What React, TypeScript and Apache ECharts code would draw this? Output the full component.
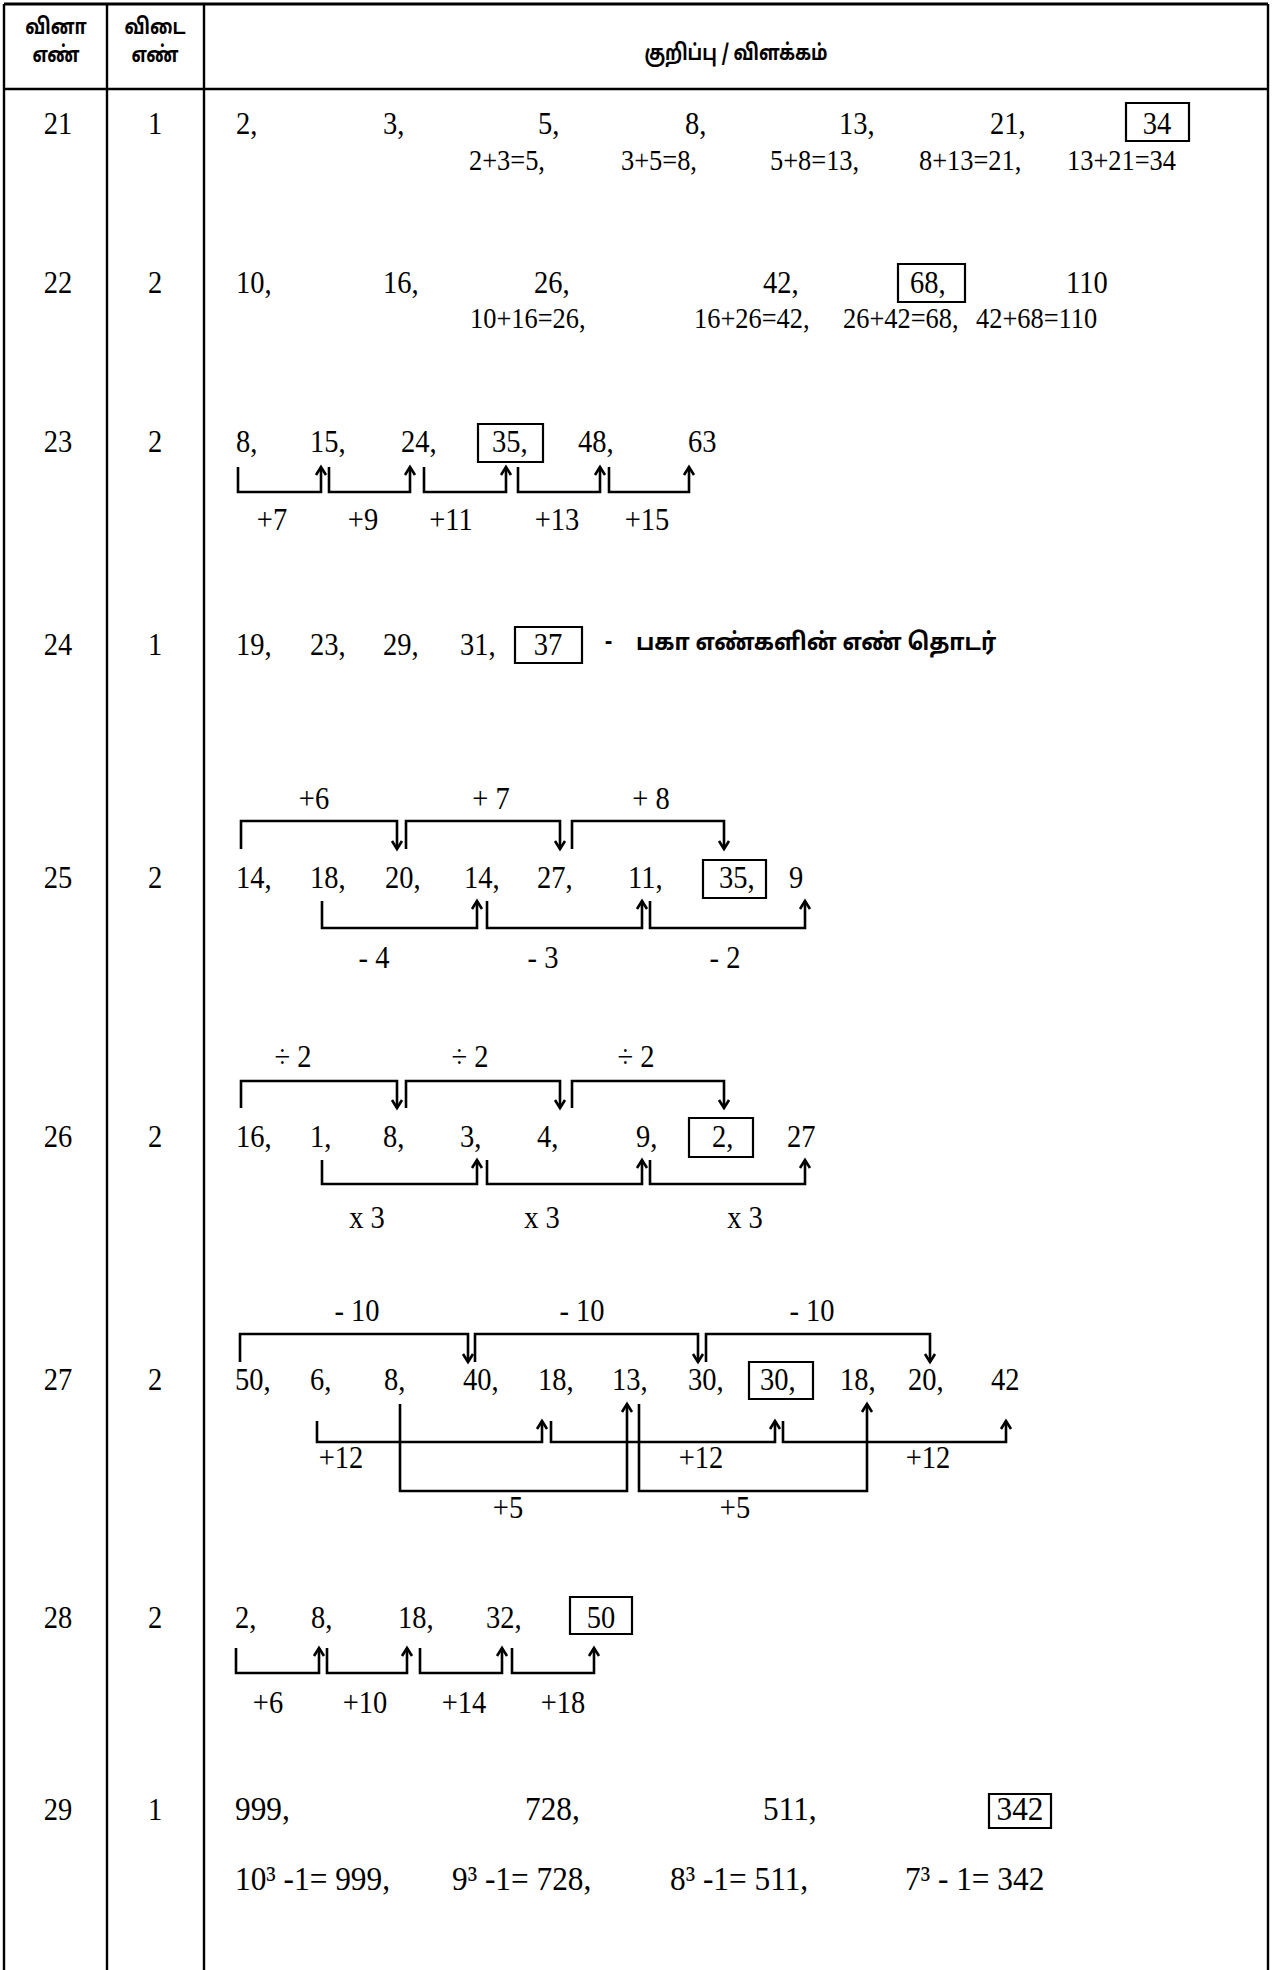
import React, { useEffect, useRef } from "react";
import * as echarts from "echarts";

// ---------- data ----------
const HEADER_Q = ["வினா", "எண்"];
const HEADER_A = ["விடை", "எண்"];
const HEADER_NOTE = "குறிப்பு / விளக்கம்";
const QUESTION_NOS = ["21", "22", "23", "24", "25", "26", "27", "28", "29"];
const ANSWER_NOS = ["1", "2", "2", "1", "2", "2", "2", "2", "1"];

const Q21_SERIES = ["2,", "3,", "5,", "8,", "13,", "21,"];
const Q21_ANSWER = "34";
const Q21_STEPS = ["2+3=5,", "3+5=8,", "5+8=13,", "8+13=21,", "13+21=34"];

const Q22_SERIES = ["10,", "16,", "26,", "42,"];
const Q22_ANSWER = "68,";
const Q22_TAIL = ["110"];
const Q22_STEPS = ["10+16=26,", "16+26=42,", "26+42=68,", "42+68=110"];

const Q23_SERIES = ["8,", "15,", "24,"];
const Q23_ANSWER = "35,";
const Q23_TAIL = ["48,", "63"];
const Q23_DIFFS = ["+7", "+9", "+11", "+13", "+15"];

const Q24_SERIES = ["19,", "23,", "29,", "31,"];
const Q24_ANSWER = "37";
const Q24_NOTE = "பகா எண்களின் எண் தொடர்";

const Q25_SERIES = ["14,", "18,", "20,", "14,", "27,", "11,"];
const Q25_ANSWER = "35,";
const Q25_TAIL = ["9"];
const Q25_TOP = ["+6", "+ 7", "+ 8"];
const Q25_BOTTOM = ["- 4", "- 3", "- 2"];

const Q26_SERIES = ["16,", "1,", "8,", "3,", "4,", "9,"];
const Q26_ANSWER = "2,";
const Q26_TAIL = ["27"];
const Q26_TOP = ["÷ 2", "÷ 2", "÷ 2"];
const Q26_BOTTOM = ["x 3", "x 3", "x 3"];

const Q27_SERIES = ["50,", "6,", "8,", "40,", "18,", "13,", "30,"];
const Q27_ANSWER = "30,";
const Q27_TAIL = ["18,", "20,", "42"];
const Q27_TOP = ["- 10", "- 10", "- 10"];
const Q27_MID = ["+12", "+12", "+12"];
const Q27_LOW = ["+5", "+5"];

const Q28_SERIES = ["2,", "8,", "18,", "32,"];
const Q28_ANSWER = "50";
const Q28_DIFFS = ["+6", "+10", "+14", "+18"];

const Q29_SERIES = ["999,", "728,", "511,"];
const Q29_ANSWER = "342";
const Q29_STEPS = ["10³ -1= 999,", "9³ -1= 728,", "8³ -1= 511,", "7³ - 1= 342"];

// ---------- layout ----------
const W = 1283;
const H = 1970;
const TABLE = { left: 4, col1: 107, col2: 204, right: 1268, top: 4, head: 89, bottom: 1970 };
const Q_X = 58;
const A_X = 155;
const ROW_Y = [124, 283, 442, 645, 878, 1137, 1380, 1618, 1810];

const SERIF = "'Liberation Serif','Times New Roman',serif";
const TAMIL = "'Noto Sans Tamil','Lohit Tamil','Latha','Noto Sans',sans-serif";
const FS = 31;
const SX = 0.92;
const LW = 2.6;

type TOpts = { align?: string; size?: number; family?: string; weight?: string; sx?: number };
function txt(x: number, y: number, s: string, o: TOpts = {}) {
  const align = o.align || "left";
  return {
    type: "text",
    x,
    y: y - 1,
    scaleX: o.sx ?? SX,
    silent: true,
    style: {
      text: s,
      fontSize: o.size || FS,
      fontFamily: o.family || SERIF,
      fontWeight: o.weight || "normal",
      fill: "#000",
      align,
      textAlign: align,
      verticalAlign: "middle",
      textVerticalAlign: "middle",
    },
  };
}
function line(x1: number, y1: number, x2: number, y2: number, w = 2.4) {
  return { type: "line", silent: true, shape: { x1, y1, x2, y2 }, style: { stroke: "#000", lineWidth: w } };
}
function poly(points: number[][], w = LW) {
  return { type: "polyline", silent: true, shape: { points }, style: { stroke: "#000", lineWidth: w, fill: "none" } };
}
function box(x1: number, y1: number, x2: number, y2: number) {
  return { type: "rect", silent: true, shape: { x: x1, y: y1, width: x2 - x1, height: y2 - y1 }, style: { fill: "none", stroke: "#000", lineWidth: 2.2 } };
}
function upBracket(x1: number, x2: number, yTop: number, yBase: number) {
  return [
    poly([[x1, yTop], [x1, yBase], [x2, yBase], [x2, yTop]]),
    poly([[x2 - 5, yTop + 8], [x2, yTop], [x2 + 5, yTop + 8]]),
  ];
}
function downBracket(x1: number, x2: number, yTip: number, yBase: number) {
  return [
    poly([[x1, yTip], [x1, yBase], [x2, yBase], [x2, yTip]]),
    poly([[x2 - 5, yTip - 8], [x2, yTip], [x2 + 5, yTip - 8]]),
  ];
}
function seq(items: string[], xs: number[], y: number, o: TOpts = {}) {
  return items.map((s, i) => txt(xs[i], y, s, o));
}
function labels(items: string[], xs: number[], y: number) {
  return items.map((s, i) => txt(xs[i], y, s, { align: "center" }));
}

function buildElements() {
  const els: any[] = [];
  // table frame
  els.push(line(TABLE.left, TABLE.top, TABLE.right, TABLE.top, 3));
  els.push(line(TABLE.left, TABLE.head, TABLE.right, TABLE.head));
  [TABLE.left, TABLE.col1, TABLE.col2, TABLE.right].forEach((x) => els.push(line(x, TABLE.top, x, TABLE.bottom)));
  // header
  const hOpt = { align: "center", size: 22, family: TAMIL, weight: "bold", sx: 0.8 };
  els.push(txt(Q_X - 2, 29, HEADER_Q[0], hOpt));
  els.push(txt(Q_X - 2, 57, HEADER_Q[1], hOpt));
  els.push(txt(A_X, 29, HEADER_A[0], hOpt));
  els.push(txt(A_X, 57, HEADER_A[1], hOpt));
  els.push(txt(736, 55, HEADER_NOTE, hOpt));
  // row numbers
  QUESTION_NOS.forEach((q, i) => {
    els.push(txt(Q_X, ROW_Y[i], q, { align: "center" }));
    els.push(txt(A_X, ROW_Y[i], ANSWER_NOS[i], { align: "center" }));
  });

  // Q21
  let y = ROW_Y[0];
  els.push(...seq(Q21_SERIES, [236, 383, 538, 685, 839, 990], y));
  els.push(box(1126, 103, 1189, 141), txt(1157, y, Q21_ANSWER, { align: "center" }));
  els.push(...seq(Q21_STEPS, [469, 621, 770, 919, 1067], 161, { size: 30, sx: 0.88 }));

  // Q22
  y = ROW_Y[1];
  els.push(...seq(Q22_SERIES, [236, 383, 534, 763], y));
  els.push(box(898, 264, 965, 302), txt(910, y, Q22_ANSWER));
  els.push(...seq(Q22_TAIL, [1066], y));
  els.push(...seq(Q22_STEPS, [470, 694, 843, 976], 319, { size: 30, sx: 0.88 }));

  // Q23
  y = ROW_Y[2];
  els.push(...seq(Q23_SERIES, [236, 310, 401], y));
  els.push(box(478, 424, 543, 462), txt(492, y, Q23_ANSWER));
  els.push(...seq(Q23_TAIL, [578, 688], y));
  [[238, 321], [329, 410], [424, 506], [518, 600], [609, 689]].forEach(([a, b]) => els.push(...upBracket(a, b, 467, 492)));
  els.push(...labels(Q23_DIFFS, [272, 363, 451, 557, 647], 520));

  // Q24
  y = ROW_Y[3];
  els.push(...seq(Q24_SERIES, [236, 310, 383, 460], y));
  els.push(box(515, 627, 582, 663), txt(548, y, Q24_ANSWER, { align: "center" }));
  els.push(txt(605, y, "-", { size: 24, family: TAMIL, weight: "bold", sx: 0.92 }));
  els.push(txt(636, y, Q24_NOTE, { size: 24, family: TAMIL, weight: "bold", sx: 0.92 }));

  // Q25
  y = ROW_Y[4];
  els.push(...labels(Q25_TOP, [314, 491, 651], 799));
  [[241, 397], [406, 560], [572, 724]].forEach(([a, b]) => els.push(...downBracket(a, b, 849, 821)));
  els.push(...seq(Q25_SERIES, [236, 310, 385, 464, 537, 628], y));
  els.push(box(703, 860, 766, 898), txt(719, y, Q25_ANSWER));
  els.push(...seq(Q25_TAIL, [789], y));
  [[322, 477], [487, 642], [650, 805]].forEach(([a, b]) => els.push(...upBracket(a, b, 901, 928)));
  els.push(...labels(Q25_BOTTOM, [374, 543, 725], 958));

  // Q26
  y = ROW_Y[5];
  els.push(...labels(Q26_TOP, [293, 470, 636], 1057));
  [[241, 397], [406, 560], [572, 724]].forEach(([a, b]) => els.push(...downBracket(a, b, 1108, 1081)));
  els.push(...seq(Q26_SERIES, [236, 310, 383, 460, 537, 636], y));
  els.push(box(689, 1118, 753, 1157), txt(712, y, Q26_ANSWER));
  els.push(...seq(Q26_TAIL, [787], y));
  [[322, 477], [487, 642], [650, 805]].forEach(([a, b]) => els.push(...upBracket(a, b, 1160, 1184)));
  els.push(...labels(Q26_BOTTOM, [367, 542, 745], 1218));

  // Q27
  y = ROW_Y[6];
  els.push(...labels(Q27_TOP, [357, 582, 812], 1311));
  [[240, 468], [475, 698], [706, 930]].forEach(([a, b]) => els.push(...downBracket(a, b, 1362, 1334)));
  els.push(...seq(Q27_SERIES, [235, 310, 384, 463, 538, 612, 688], y));
  els.push(box(749, 1362, 813, 1399), txt(760, y, Q27_ANSWER));
  els.push(...seq(Q27_TAIL, [840, 908, 991], y));
  [[317, 542], [551, 775], [783, 1006]].forEach(([a, b]) => els.push(...upBracket(a, b, 1421, 1442)));
  els.push(...labels(Q27_MID, [341, 701, 928], 1458));
  [[400, 627], [639, 867]].forEach(([a, b]) => els.push(...upBracket(a, b, 1404, 1491)));
  els.push(...labels(Q27_LOW, [508, 735], 1508));

  // Q28
  y = ROW_Y[7];
  els.push(...seq(Q28_SERIES, [235, 311, 398, 486], y));
  els.push(box(570, 1597, 632, 1634), txt(601, y, Q28_ANSWER, { align: "center" }));
  [[236, 319], [327, 407], [420, 502], [512, 594]].forEach(([a, b]) => els.push(...upBracket(a, b, 1648, 1673)));
  els.push(...labels(Q28_DIFFS, [268, 365, 464, 563], 1703));

  // Q29
  y = ROW_Y[8];
  const r29 = { size: 33, sx: 0.95 };
  els.push(...seq(Q29_SERIES, [235, 525, 763], y, r29));
  els.push(box(989, 1794, 1051, 1828), txt(1020, y, Q29_ANSWER, { align: "center", ...r29 }));
  els.push(...seq(Q29_STEPS, [235, 452, 670, 905], 1880, r29));

  return els;
}

export default function App() {
  const ref = useRef<HTMLDivElement>(null);
  useEffect(() => {
    document.body.style.margin = "0";
    document.body.style.background = "#fff";
    if (!ref.current) return;
    const chart = echarts.init(ref.current, null, { renderer: "svg" });
    chart.setOption({
      animation: false,
      backgroundColor: "#fff",
      graphic: { elements: buildElements() },
    });
    return () => chart.dispose();
  }, []);
  return <div ref={ref} style={{ width: W, height: H }} />;
}
